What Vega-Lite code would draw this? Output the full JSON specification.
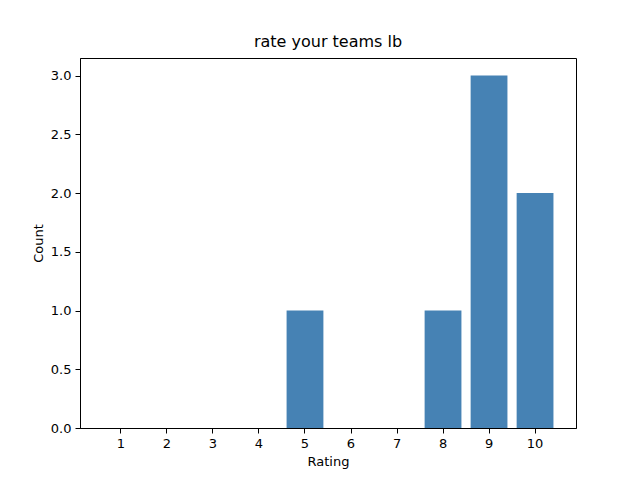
{
  "$schema": "https://vega.github.io/schema/vega-lite/v6.json",
  "autosize": "none",
  "width": 496,
  "height": 370,
  "padding": {"left": 80, "top": 58, "right": 64, "bottom": 52},
  "background": "white",
  "title": {
    "text": "rate your teams lb",
    "font": "DejaVu Sans",
    "fontSize": 16,
    "fontWeight": "normal",
    "color": "black",
    "anchor": "middle",
    "offset": 8
  },
  "data": {
    "values": [
      {"Rating": 1, "Count": 0},
      {"Rating": 2, "Count": 0},
      {"Rating": 3, "Count": 0},
      {"Rating": 4, "Count": 0},
      {"Rating": 5, "Count": 1},
      {"Rating": 6, "Count": 0},
      {"Rating": 7, "Count": 0},
      {"Rating": 8, "Count": 1},
      {"Rating": 9, "Count": 3},
      {"Rating": 10, "Count": 2}
    ]
  },
  "mark": {"type": "bar", "color": "#4682b4"},
  "encoding": {
    "x": {
      "field": "Rating",
      "type": "ordinal",
      "title": "Rating",
      "sort": "ascending",
      "scale": {"paddingInner": 0.2, "paddingOuter": 0.49},
      "axis": {"labelAngle": 0}
    },
    "y": {
      "field": "Count",
      "type": "quantitative",
      "title": "Count",
      "scale": {"domain": [0, 3.15], "nice": false},
      "axis": {"values": [0, 0.5, 1, 1.5, 2, 2.5, 3], "format": ".1f"}
    }
  },
  "config": {
    "view": {"stroke": "black", "strokeWidth": 1},
    "axis": {
      "grid": false,
      "domainColor": "black",
      "tickColor": "black",
      "tickSize": 5,
      "labelColor": "black",
      "titleColor": "black",
      "labelFont": "DejaVu Sans",
      "titleFont": "DejaVu Sans",
      "labelFontSize": 13,
      "titleFontSize": 13,
      "titleFontWeight": "normal",
      "labelPadding": 4,
      "titlePadding": 5
    }
  }
}
